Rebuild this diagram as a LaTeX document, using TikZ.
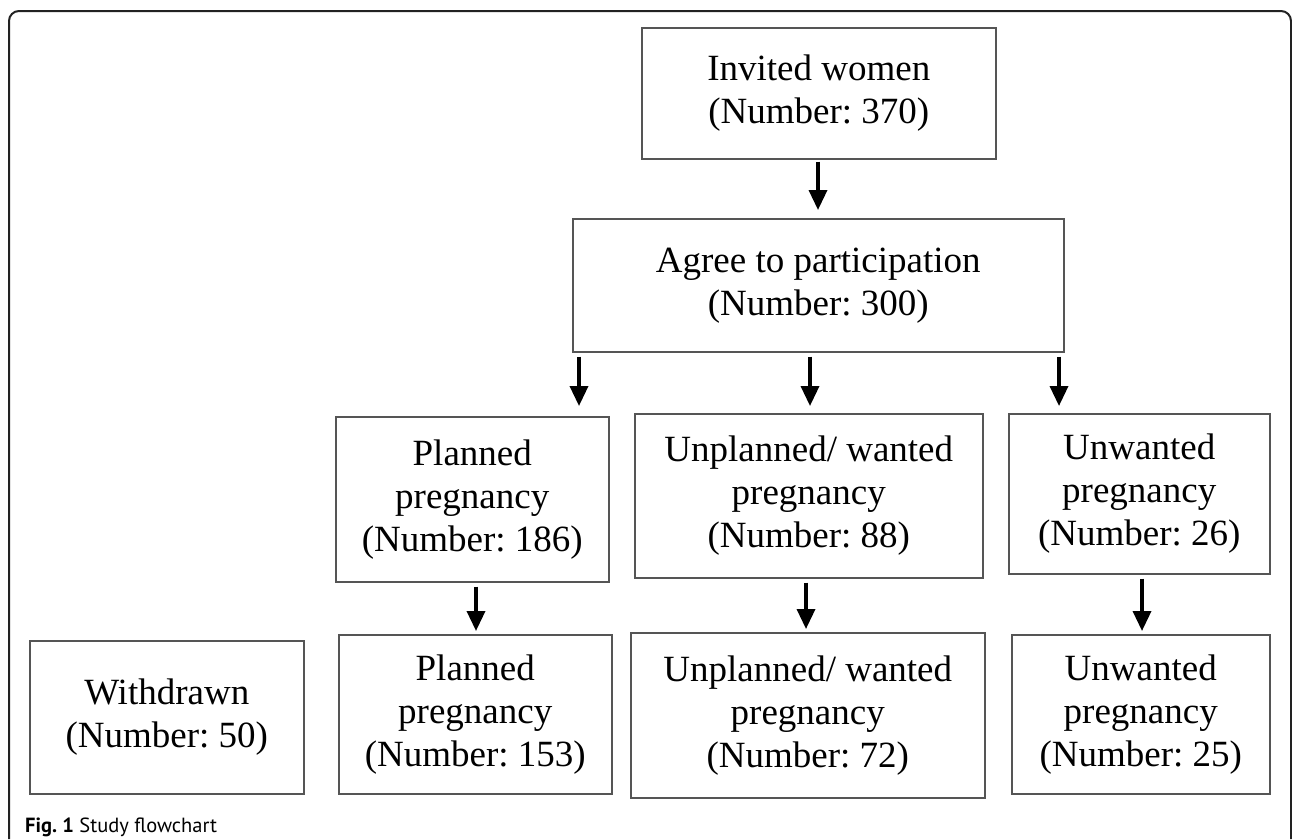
\documentclass[tikz,border=0pt]{standalone}
\usepackage{fontspec}
\setmainfont{Liberation Serif}
\newfontfamily\capfont{PT Sans}
\usetikzlibrary{arrows.meta}
\definecolor{boxline}{HTML}{555555}
\definecolor{frameline}{HTML}{222222}
\frenchspacing
\tikzset{
  fbox/.style={draw=boxline, line width=1.5pt, anchor=north west, align=center,
    inner sep=0pt, font=\fontsize{37}{43}\selectfont},
  arr/.style={line width=3.5pt, black, -{Triangle[width=18pt,length=20pt]}},
}
\begin{document}
\begin{tikzpicture}[x=1pt,y=-1pt]
\useasboundingbox (0,0) rectangle (1292,839);
% outer frame
\draw[frameline, line width=2pt, rounded corners=10pt] (9,839) -- (9,11) -- (1291,11) -- (1291,839);
% boxes
\node[fbox, minimum width=354pt, minimum height=131pt] (inv) at (641,27) {Invited women\\(Number: 370)};
\node[fbox, minimum width=491pt, minimum height=133pt] (agr) at (572,218) {Agree to participation\\(Number: 300)};
\node[fbox, minimum width=273pt, minimum height=165pt] (pl1) at (335,416) {Planned\\pregnancy\\(Number: 186)};
\node[fbox, minimum width=348pt, minimum height=164pt] (un1) at (634,413) {Unplanned/ wanted\\pregnancy\\(Number: 88)};
\node[fbox, minimum width=261pt, minimum height=160pt] (uw1) at (1008,413) {Unwanted\\pregnancy\\(Number: 26)};
\node[fbox, minimum width=274pt, minimum height=153pt] (wd) at (29,640) {Withdrawn\\(Number: 50)};
\node[fbox, minimum width=273pt, minimum height=159pt] (pl2) at (338,634) {Planned\\pregnancy\\(Number: 153)};
\node[fbox, minimum width=354pt, minimum height=165pt] (un2) at (630,632) {Unplanned/ wanted\\pregnancy\\(Number: 72)};
\node[fbox, minimum width=258pt, minimum height=159pt] (uw2) at (1011,634) {Unwanted\\pregnancy\\(Number: 25)};
% arrow x positions
\coordinate (a0) at (818,0);
\coordinate (a1) at (579,0);
\coordinate (a2) at (810,0);
\coordinate (a3) at (1059,0);
\coordinate (b1) at (476,0);
\coordinate (b2) at (806,0);
\coordinate (b3) at (1142,0);
% arrows
\draw[arr] ([yshift=-2pt]inv.south -| a0) -- ([yshift=8pt]agr.north -| a0);
\draw[arr] ([yshift=-4pt]agr.south -| a1) -- ([yshift=10pt]pl1.north -| a1);
\draw[arr] ([yshift=-4pt]agr.south -| a2) -- ([yshift=7pt]un1.north -| a2);
\draw[arr] ([yshift=-4pt]agr.south -| a3) -- ([yshift=7pt]uw1.north -| a3);
\draw[arr] ([yshift=-4pt]pl1.south -| b1) -- ([yshift=3pt]pl2.north -| b1);
\draw[arr] ([yshift=-4pt]un1.south -| b2) -- ([yshift=3pt]un2.north -| b2);
\draw[arr] ([yshift=-4pt]uw1.south -| b3) -- ([yshift=3pt]uw2.north -| b3);
% caption
\node[anchor=base west, inner sep=0pt, font=\capfont\fontsize{20.5}{24}\selectfont] (cap) at (25,832) {\textbf{Fig. 1} Study flowchart};
\end{tikzpicture}
\end{document}
